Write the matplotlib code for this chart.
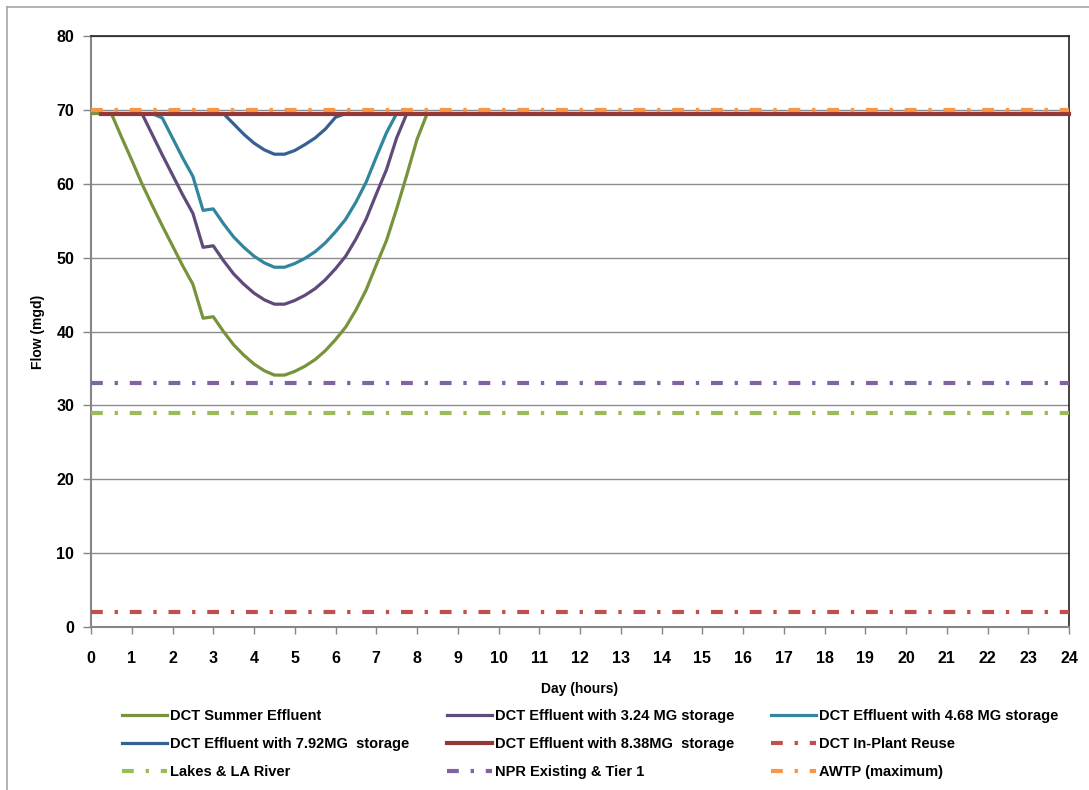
import matplotlib
matplotlib.use("Agg")
import matplotlib.pyplot as plt
from matplotlib.lines import Line2D

plt.rcParams['font.family'] = ['Liberation Sans', 'DejaVu Sans']
plt.rcParams['font.weight'] = 'bold'
plt.rcParams['lines.scale_dashes'] = False

# ---------------- data ----------------
hours_summer = [0, 0.25, 0.5, 0.75, 1.0, 1.25, 1.5, 1.75, 2.0, 2.25, 2.5, 2.75, 3.0, 3.25,
                3.5, 3.75, 4.0, 4.25, 4.5, 4.75, 5.0, 5.25, 5.5, 5.75, 6.0, 6.25, 6.5,
                6.75, 7.0, 7.25, 7.5, 7.75, 8.0, 8.25, 24]
flow_summer = [69.5, 69.5, 69.5, 66.3, 63.2, 60.0, 57.1, 54.3, 51.6, 48.9, 46.4, 41.8, 42.0, 40.0,
               38.2, 36.8, 35.6, 34.7, 34.1, 34.1, 34.6, 35.3, 36.2, 37.4, 38.9, 40.6, 42.9,
               45.6, 49.0, 52.3, 56.6, 61.2, 66.0, 69.5, 69.5]

hours_324 = [0.25, 1.25, 1.5, 1.75, 2.0, 2.25, 2.5, 2.75, 3.0, 3.25, 3.5, 3.75, 4.0, 4.25,
             4.5, 4.75, 5.0, 5.25, 5.5, 5.75, 6.0, 6.25, 6.5, 6.75, 7.0, 7.25, 7.5, 7.75, 24]
flow_324 = [69.5, 69.5, 66.7, 63.9, 61.2, 58.5, 56.0, 51.4, 51.6, 49.6, 47.8, 46.4, 45.2, 44.3,
            43.7, 43.7, 44.2, 44.9, 45.8, 47.0, 48.5, 50.2, 52.5, 55.2, 58.6, 61.9, 66.2, 69.5, 69.5]

hours_468 = [0.25, 1.5, 1.75, 2.0, 2.25, 2.5, 2.75, 3.0, 3.25, 3.5, 3.75, 4.0, 4.25, 4.5,
             4.75, 5.0, 5.25, 5.5, 5.75, 6.0, 6.25, 6.5, 6.75, 7.0, 7.25, 7.5, 24]
flow_468 = [69.5, 69.5, 68.9, 66.2, 63.5, 61.0, 56.4, 56.6, 54.6, 52.8, 51.4, 50.2, 49.3, 48.7,
            48.7, 49.2, 49.9, 50.8, 52.0, 53.5, 55.2, 57.5, 60.2, 63.6, 66.9, 69.5, 69.5]

hours_792 = [0.25, 3.25, 3.5, 3.75, 4.0, 4.25, 4.5, 4.75, 5.0, 5.25, 5.5, 5.75, 6.0, 6.25, 24]
flow_792 = [69.5, 69.5, 68.1, 66.7, 65.5, 64.6, 64.0, 64.0, 64.5, 65.3, 66.2, 67.4, 69.0, 69.5, 69.5]

hours_838 = [0.25, 24]
flow_838 = [69.5, 69.5]

hours_ref = [0, 24]
flow_inplant = [2, 2]
flow_lakes = [29, 29]
flow_npr = [33, 33]
flow_awtp = [70, 70]

labels = ["DCT Summer Effluent", "DCT Effluent with 3.24 MG storage",
          "DCT Effluent with 4.68 MG storage", "DCT Effluent with 7.92MG  storage",
          "DCT Effluent with 8.38MG  storage", "DCT In-Plant Reuse",
          "Lakes & LA River", "NPR Existing & Tier 1", "AWTP (maximum)"]

x_ticks = list(range(0, 25))
y_ticks = list(range(0, 81, 10))

# ---------------- figure ----------------
W, H = 1089, 790
fig = plt.figure(figsize=(W / 100, H / 100), dpi=100)
ax = fig.add_axes([91 / W, 1 - 627 / H, (1069 - 91) / W, (627 - 36) / H])

solid_lw = 2.3
dd_lw = 3.0
dd = (0, (8.5, 8.5, 2.4, 8.5))

h1, = ax.plot(hours_summer, flow_summer, color='#77933C', lw=solid_lw, zorder=3)
h2, = ax.plot(hours_324, flow_324, color='#604A7B', lw=solid_lw, zorder=3)
h3, = ax.plot(hours_468, flow_468, color='#31859C', lw=solid_lw, zorder=3)
h4, = ax.plot(hours_792, flow_792, color='#376092', lw=solid_lw, zorder=3)
h5, = ax.plot(hours_838, flow_838, color='#953735', lw=3.0, zorder=3, clip_on=False)
h6, = ax.plot(hours_ref, flow_inplant, color='#C0504D', lw=dd_lw, ls=dd, dash_capstyle='butt', zorder=4)
h7, = ax.plot(hours_ref, flow_lakes, color='#9BBB59', lw=dd_lw, ls=dd, dash_capstyle='butt', zorder=4)
h8, = ax.plot(hours_ref, flow_npr, color='#8064A2', lw=dd_lw, ls=dd, dash_capstyle='butt', zorder=4)
h9, = ax.plot(hours_ref, flow_awtp, color='#F79646', lw=dd_lw, ls=dd, dash_capstyle='butt', zorder=4)

ax.set_xlim(0, 24)
ax.set_ylim(0, 80)
ax.set_xticks(x_ticks)
ax.set_yticks(y_ticks)
ax.tick_params(axis='x', direction='out', length=5, width=1, color='#868686', pad=12, labelsize=11.5)
ax.tick_params(axis='y', direction='out', length=6, width=1, color='#868686', pad=6, labelsize=11.5)
for lab in ax.get_xticklabels() + ax.get_yticklabels():
    lab.set_fontweight('bold')

ax.yaxis.grid(True, color='#8C8C8C', lw=1.0)
ax.set_axisbelow(True)
ax.spines['left'].set_color('#868686')
ax.spines['bottom'].set_color('#868686')
ax.spines['left'].set_linewidth(1.5)
ax.spines['bottom'].set_linewidth(1.5)
ax.spines['top'].set_color('#222222')
ax.spines['right'].set_color('#222222')
ax.spines['top'].set_linewidth(1.2)
ax.spines['right'].set_linewidth(1.2)

ax.set_xlabel("Day (hours)", fontsize=10, fontweight='bold', labelpad=12)
ax.set_ylabel("Flow (mgd)", fontsize=10, fontweight='bold', labelpad=8)

# legend (column-major order to reproduce the row-wise layout)
handles = [h1, h4, h7, h2, h5, h8, h3, h6, h9]
order = [0, 3, 6, 1, 4, 7, 2, 5, 8]
leg_labels = [labels[i] for i in order]
leg = fig.legend(handles, leg_labels, ncol=3, loc='upper left',
                 bbox_to_anchor=(122 / W, 1 - 709 / H), frameon=False,
                 prop={'family': 'Liberation Sans', 'weight': 'bold', 'size': 10.5},
                 handlelength=3.1, handletextpad=0.2, columnspacing=2.55,
                 labelspacing=0.97, borderpad=0, borderaxespad=0)

# outer chart border (left and top)
fig.add_artist(Line2D([7 / W, 7 / W], [0, 1 - 7 / H], transform=fig.transFigure,
                      color='#A6A6A6', lw=1.2))
fig.add_artist(Line2D([7 / W, 1], [1 - 7 / H, 1 - 7 / H], transform=fig.transFigure,
                      color='#A6A6A6', lw=1.2))

fig.savefig("out.png", dpi=100, facecolor='white')
